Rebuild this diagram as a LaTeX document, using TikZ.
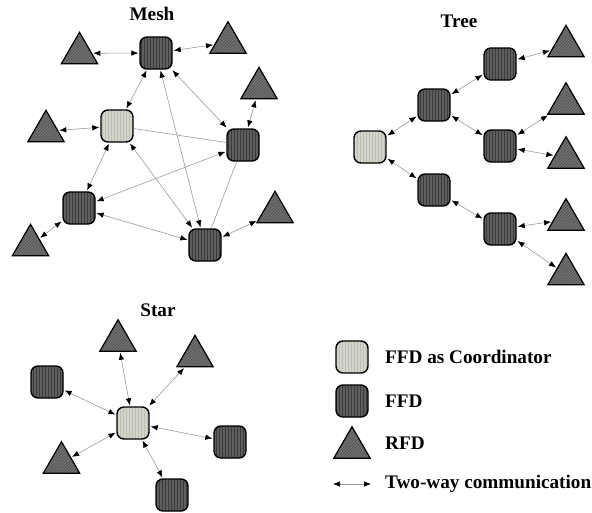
\documentclass[tikz,border=0pt]{standalone}
\usepackage{fontspec}
\setmainfont{Liberation Serif}
\usetikzlibrary{shapes.geometric,arrows.meta,patterns}
\definecolor{ffdfill}{HTML}{5E5E5E}
\definecolor{ffdline}{HTML}{3A3A3A}
\definecolor{crdfill}{HTML}{D3D5CB}
\definecolor{crdline}{HTML}{BDBFB5}
\definecolor{rfdfill}{HTML}{727272}
\definecolor{rfdline}{HTML}{4E4E4E}
\definecolor{linkgray}{HTML}{9A9A9A}
\tikzset{
  ffd/.style={draw, line width=1.4pt, rounded corners=7pt, minimum size=32pt, inner sep=0pt,
    preaction={fill=ffdfill}, pattern=vertical lines, pattern color=ffdline},
  crd/.style={draw, line width=1.4pt, rounded corners=7pt, minimum size=32pt, inner sep=0pt,
    preaction={fill=crdfill}, pattern=vertical lines, pattern color=crdline},
  rfd/.style={regular polygon, regular polygon sides=3, draw, line width=1.2pt, minimum size=42pt,
    inner sep=0pt, preaction={fill=rfdfill}, pattern=north east lines, pattern color=rfdline},
  link/.style={draw=linkgray, line width=0.6pt,
    {Latex[length=7pt,width=5.5pt,color=black]}-{Latex[length=7pt,width=5.5pt,color=black]},
    shorten <=1pt, shorten >=1pt},
  plainlink/.style={draw=linkgray, line width=0.6pt},
  lbl/.style={font=\fontsize{19.2}{23}\selectfont\bfseries, inner sep=0pt}
}
\begin{document}
\begin{tikzpicture}[x=1pt,y=-1pt]
\useasboundingbox (0,0) rectangle (592,512);
% ---------- Mesh ----------
\node[lbl] (meshtitle) at (152,14) {Mesh};
\node[ffd] (m1) at (156,53) {};
\node[crd] (mc) at (117,126) {};
\node[ffd] (mr) at (243,145) {};
\node[ffd] (ml) at (79,208) {};
\node[ffd] (mb) at (205,245) {};
\node[rfd] (mtl) at (79.5,53.3) {};
\node[rfd] (mtr) at (228,42.7) {};
\node[rfd] (mru) at (259,88.3) {};
\node[rfd] (mlt) at (46,131.3) {};
\node[rfd] (mbl) at (30.5,245.3) {};
\node[rfd] (mbr) at (275,212.3) {};
\draw[link] (mtl) -- (m1);
\draw[link] (mtr) -- (m1);
\draw[link] (m1) -- (mc);
\draw[link] (m1) -- (mr);
\draw[link] (m1) -- (mb);
\draw[plainlink] (mc) -- (mr);
\draw[link] (mc) -- (ml);
\draw[link] (mc) -- (mb);
\draw[link] (mlt) -- (mc);
\draw[link] (mr) -- (ml);
\draw[plainlink] (mr) -- (mb);
\draw[link] (ml) -- (mb);
\draw[link] (ml) -- (mbl);
\draw[link] (mb) -- (mbr);
\draw[link] (mru) -- (mr);
% ---------- Tree ----------
\node[lbl] (treetitle) at (459,21) {Tree};
\node[crd] (tc) at (370,147) {};
\node[ffd] (t1) at (500,64) {};
\node[ffd] (t2) at (434,105) {};
\node[ffd] (t3) at (500,146) {};
\node[ffd] (t4) at (434,190) {};
\node[ffd] (t5) at (500,229) {};
\node[rfd] (tr1) at (566,46.3) {};
\node[rfd] (tr2) at (566,103.7) {};
\node[rfd] (tr3) at (566,157.7) {};
\node[rfd] (tr4) at (566,219.7) {};
\node[rfd] (tr5) at (566,274.3) {};
\draw[link] (tc) -- (t2);
\draw[link] (t2) -- (t1);
\draw[link] (t2) -- (t3);
\draw[link] (tc) -- (t4);
\draw[link] (t4) -- (t5);
\draw[link] (t1) -- (tr1);
\draw[link] (t3) -- (tr2);
\draw[link] (t3) -- (tr3);
\draw[link] (t5) -- (tr4);
\draw[link] (t5) -- (tr5);
% ---------- Star ----------
\node[lbl] (startitle) at (158,310) {Star};
\node[crd] (sc) at (133,423) {};
\node[rfd] (st1) at (118,340.7) {};
\node[rfd] (st2) at (195,356.3) {};
\node[rfd] (st3) at (61.5,462.7) {};
\node[ffd] (sf1) at (47,382) {};
\node[ffd] (sf2) at (230,442) {};
\node[ffd] (sf3) at (172,495) {};
\draw[link] (sc) -- (st1);
\draw[link] (sc) -- (st2);
\draw[link] (sc) -- (st3);
\draw[link] (sc) -- (sf1);
\draw[link] (sc) -- (sf2);
\draw[link] (sc) -- (sf3);
% ---------- Legend ----------
\node[crd] (lgc) at (352,357) {};
\node[ffd] (lgf) at (352,401) {};
\node[rfd] (lgr) at (352,447.7) {};
\coordinate (lga) at (333,484);
\coordinate (lgb) at (371,484);
\draw[link, shorten <=0pt, shorten >=0pt] (lga) -- (lgb);
\node[lbl, anchor=west] (lgct) at (385,357) {FFD as Coordinator};
\node[lbl, anchor=west] (lgft) at (385,401) {FFD};
\node[lbl, anchor=west] (lgrt) at (385,443) {RFD};
\node[lbl, anchor=west] (lgat) at (385,484) {Two-way communication};
\end{tikzpicture}
\end{document}
